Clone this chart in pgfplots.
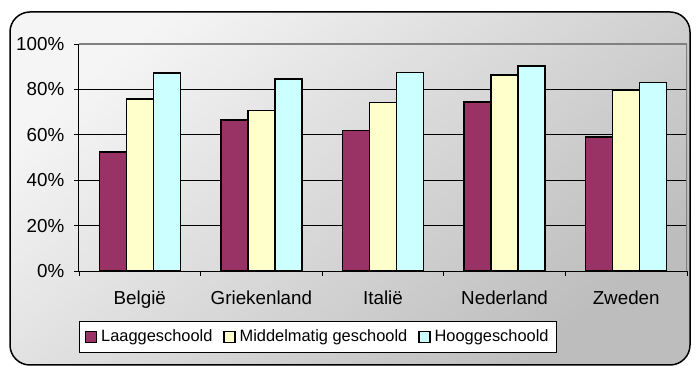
\documentclass[border=0pt]{standalone}
\usepackage{fontspec}
\setmainfont{Liberation Sans}
\usepackage{pgfplots}
\pgfplotsset{compat=1.18}
\definecolor{laag}{HTML}{993366}
\definecolor{midd}{HTML}{FFFFCC}
\definecolor{hoog}{HTML}{CCFFFF}
\definecolor{bordergray}{HTML}{808080}
\begin{document}
\fontsize{16.4bp}{19bp}\selectfont
\begin{tikzpicture}
\path[use as bounding box] (0,0) rectangle (696bp,368bp);
\shade[top color=white!96!black, bottom color=white!74!black, shading angle=40, rounded corners=20bp] (10bp,3bp) rectangle (690bp,356bp);
\draw[line width=1.5bp, rounded corners=20bp] (10bp,3bp) rectangle (690bp,356bp);
\begin{axis}[
  at={(79bp,97bp)}, anchor=south west,
  scale only axis, width=608bp, height=227bp,
  ybar=0pt, bar width=27bp,
  xmin=-0.5, xmax=4.5, ymin=0, ymax=100,
  xtick={-0.5,0.5,1.5,2.5,3.5,4.5},
  xticklabels={België,Griekenland,Italië,Nederland,Zweden},
  x tick label as interval,
  ytick={0,20,40,60,80,100},
  yticklabels={0\%,20\%,40\%,60\%,80\%,100\%},
  tick label style={font=\fontsize{18.8bp}{22bp}\selectfont},
  yticklabel style={xshift=-4bp},
  xticklabel style={yshift=-9bp},
  ymajorgrids, major grid style={black, line width=0.75bp},
  tick align=outside, major tick length=5bp,
  tick style={black, line width=0.75bp},
  axis x line*=bottom, axis y line*=left,
  axis line style={black, line width=1bp, -},
  legend columns=3,
  legend style={at={(0,-0.2203)}, anchor=north west, draw=black, fill=white,
    line width=1bp, inner xsep=5.5bp, inner ysep=4bp,
    font=\fontsize{16.4bp}{19bp}\selectfont,
    /tikz/every odd column/.append style={column sep=2bp},
    /tikz/every even column/.append style={column sep=9bp},
    nodes={inner xsep=2bp, inner ysep=4.5bp}},
  legend image code/.code={\draw[#1,line width=1.2bp] (0bp,-5.5bp) rectangle (11bp,5.5bp);},
  every axis plot/.append style={draw=black, line width=1.5bp},
]
\addplot[fill=laag] coordinates {(0,52.5) (1,66.5) (2,62) (3,74.4) (4,59)};
\addlegendentry{Laaggeschoold}
\addplot[fill=midd] coordinates {(0,75.8) (1,70.8) (2,74.2) (3,86.4) (4,79.6)};
\addlegendentry{Middelmatig geschoold}
\addplot[fill=hoog] coordinates {(0,87.3) (1,84.5) (2,87.5) (3,90.3) (4,83)};
\addlegendentry{Hooggeschoold}
\draw[bordergray, line width=1.5bp] (rel axis cs:0,1) -- (rel axis cs:1,1) -- (rel axis cs:1,0);
\end{axis}
\end{tikzpicture}
\end{document}
